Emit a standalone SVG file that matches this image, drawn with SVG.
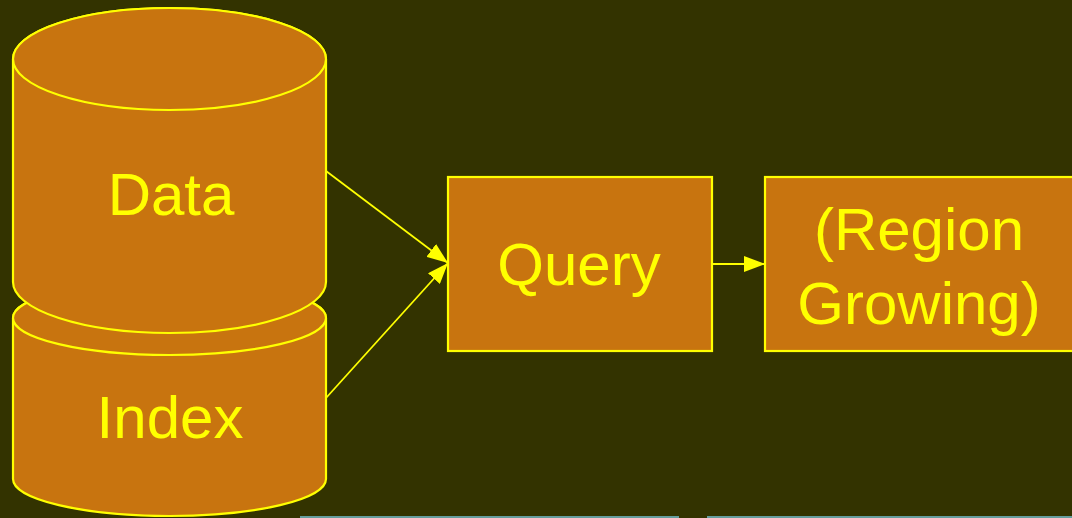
<svg xmlns="http://www.w3.org/2000/svg" width="1072" height="518" viewBox="0 0 1072 518">
<style>
.shape{fill:#C8740F;stroke:#FFFF00;stroke-width:2.2}
.edge{fill:none;stroke:#FFFF00;stroke-width:1.8}
.lbl{font-family:"Liberation Sans",Arial,sans-serif;font-size:60px;fill:#FFFF00;text-anchor:middle}
</style>
<defs>
<marker id="arr" viewBox="0 0 21 16" refX="21" refY="8" markerWidth="21" markerHeight="16" markerUnits="userSpaceOnUse" orient="auto">
<path d="M0,0 L21,8 L0,16 Z" fill="#FFFF00"/>
</marker>
</defs>
<rect width="1072" height="518" fill="#333300"/>
<rect x="300" y="516" width="379" height="2" fill="#659e9e"/>
<rect x="707" y="516" width="365" height="2" fill="#659e9e"/>
<g id="index">
<path class="shape" d="M13,318 L13,479 A156.5,37 0 0 0 326,479 L326,318 A156.5,37 0 0 0 13,318 Z"/>
<ellipse class="shape" cx="169.5" cy="318" rx="156.5" ry="37"/>
<text class="lbl" x="170" y="438">Index</text>
</g>
<g id="data">
<path class="shape" d="M13,59 L13,282 A156.5,51 0 0 0 326,282 L326,59 A156.5,51 0 0 0 13,59 Z"/>
<ellipse class="shape" cx="169.5" cy="59" rx="156.5" ry="51"/>
<text class="lbl" x="171" y="215">Data</text>
</g>
<g id="query">
<rect class="shape" x="448" y="177" width="264" height="174"/>
<text class="lbl" x="579" y="285">Query</text>
</g>
<g id="region">
<rect class="shape" x="765" y="177" width="312" height="174"/>
<text class="lbl" x="919" y="250">(Region</text>
<text class="lbl" x="919" y="324">Growing)</text>
</g>
<g id="connectors">
<line class="edge" x1="326" y1="171" x2="448" y2="263" marker-end="url(#arr)"/>
<line class="edge" x1="326" y1="398" x2="448" y2="263" marker-end="url(#arr)"/>
<line class="edge" x1="712" y1="264" x2="765" y2="264" marker-end="url(#arr)"/>
</g>
</svg>
